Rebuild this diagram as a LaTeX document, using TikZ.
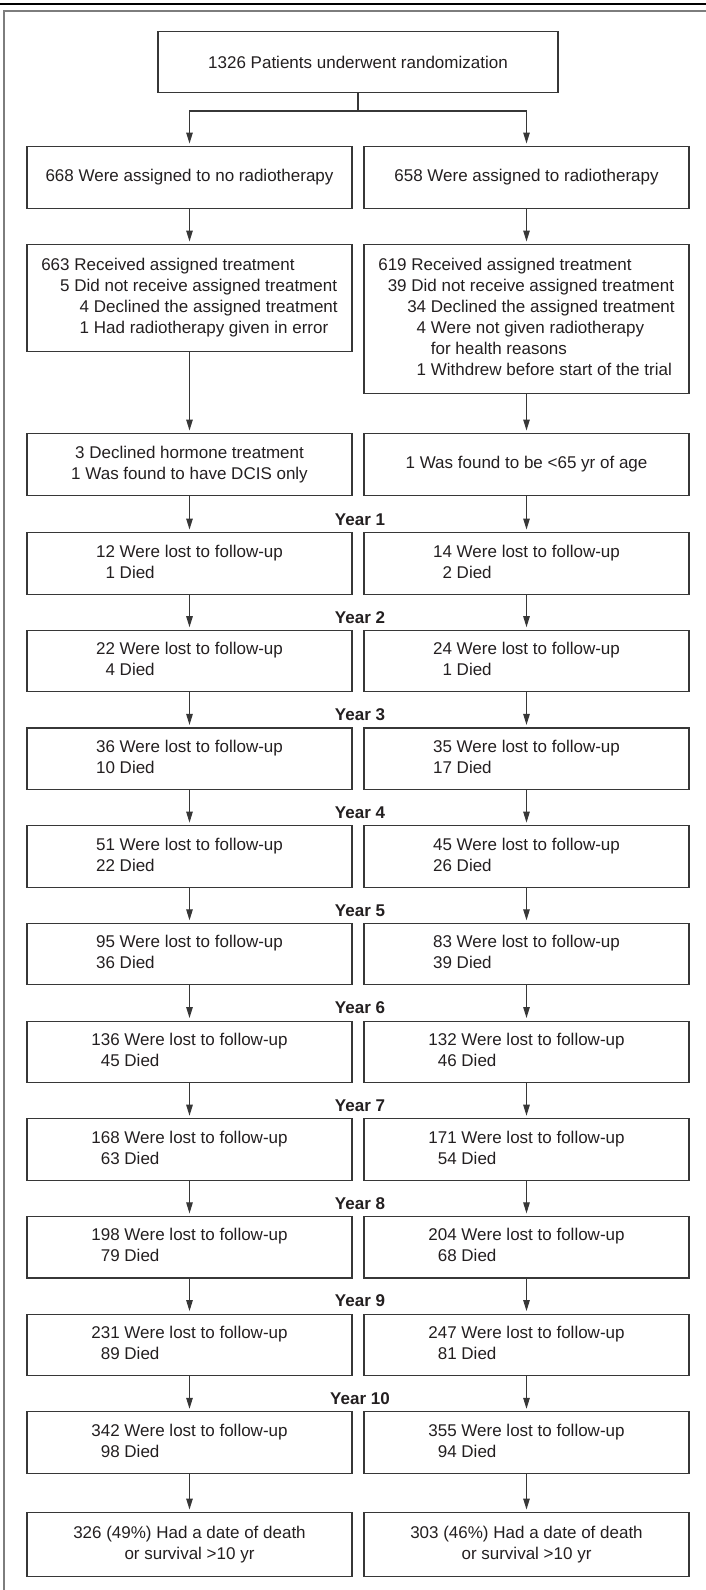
\documentclass[tikz,border=0pt]{standalone}
\usepackage{fontspec}
\setmainfont{Liberation Sans}
\definecolor{boxline}{RGB}{55,55,55}
\definecolor{framegray}{RGB}{125,125,125}
\definecolor{textdark}{RGB}{35,31,32}
\usetikzlibrary{arrows.meta}
\newcommand{\subnum}[1]{\makebox[0.87em][r]{#1}~}

\begin{document}
\begin{tikzpicture}[x=1pt,y=-1pt,
    every node/.style={font=\fontsize{17}{21}\selectfont,text=textdark},
    flowbox/.style={draw=boxline,line width=1.1pt,inner sep=0pt,
      minimum width=325pt,minimum height=61.5pt,anchor=north},
    yearlabel/.style={font=\fontsize{17}{21}\selectfont\bfseries,inner sep=0pt},
    flowarrow/.style={draw=boxline,line width=1.1pt,
      -{Triangle[length=11pt,width=6.5pt]},shorten >=2.5pt}
    ]
    \useasboundingbox (0,0) rectangle (706,1590);

    % rule and frame
    \draw[line width=1.6pt] (0,4) -- (706,4);
    \draw[framegray,line width=1.8pt] (706,11) -- (4,11) -- (4,1590);

    % randomization
    \node[flowbox,minimum width=400pt,minimum height=61pt] (rand) at (358,31)
      {1326 Patients underwent randomization};
    \coordinate (split) at (358,111);

    % the two arms
    \node[flowbox] (noRT) at (189.5,146) {668 Were assigned to no radiotherapy};
    \node[flowbox] (RT) at (526.5,146) {658 Were assigned to radiotherapy};

    % treatment received
    \node[flowbox,minimum height=107pt] (noRTtx) at (189.5,244)
      {\begin{tabular}{@{}r@{ }l@{}}
        663 & Received assigned treatment\\
        5 & Did not receive assigned treatment\\
          & \subnum{4}Declined the assigned treatment\\
          & \subnum{1}Had radiotherapy given in error
       \end{tabular}};
    \node[flowbox,minimum height=149pt] (RTtx) at (526.5,244)
      {\begin{tabular}{@{}r@{ }l@{}}
        619 & Received assigned treatment\\
        39 & Did not receive assigned treatment\\
          & \subnum{34}Declined the assigned treatment\\
          & \subnum{4}Were not given radiotherapy\\
          & \subnum{}for health reasons\\
          & \subnum{1}Withdrew before start of the trial
       \end{tabular}};

    % exclusions
    \node[flowbox,minimum height=62pt,align=center] (l0) at (189.5,433)
      {3 Declined hormone treatment\\1 Was found to have DCIS only};
    \node[flowbox,minimum height=62pt] (r0) at (526.5,433)
      {1 Was found to be <65 yr of age};

    % the edges
    \draw[boxline,line width=1.1pt] (rand.south) -- (split);
    \draw[flowarrow] (split) -| (noRT.north);
    \draw[flowarrow] (split) -| (RT.north);
    \draw[flowarrow] (noRT.south) -- (noRTtx.north);
    \draw[flowarrow] (RT.south) -- (RTtx.north);
    \draw[flowarrow] (noRTtx.south) -- (l0.north);
    \draw[flowarrow] (RTtx.south) -- (r0.north);

    % follow-up, year by year
    \foreach \k/\la/\lb/\ra/\rb in {1/12/1/14/2,2/22/4/24/1,3/36/10/35/17,
        4/51/22/45/26,5/95/36/83/39,6/136/45/132/46,7/168/63/171/54,
        8/198/79/204/68,9/231/89/247/81,10/342/98/355/94} {
      \pgfmathsetmacro{\top}{532+(\k-1)*97.7}
      \pgfmathtruncatemacro{\prev}{\k-1}
      \node[yearlabel] (y\k) at (360,\top-12.5) {Year \k};
      \node[flowbox] (l\k) at (189.5,\top)
        {\begin{tabular}{@{}r@{ }l@{}}\la & Were lost to follow-up\\ \lb & Died\end{tabular}};
      \node[flowbox] (r\k) at (526.5,\top)
        {\begin{tabular}{@{}r@{ }l@{}}\ra & Were lost to follow-up\\ \rb & Died\end{tabular}};
      \draw[flowarrow] (l\prev.south) -- (l\k.north);
      \draw[flowarrow] (r\prev.south) -- (r\k.north);
    }

    % outcome
    \node[flowbox,minimum height=64pt,align=center] (lend) at (189.5,1512)
      {326 (49\%) Had a date of death\\or survival >10 yr};
    \node[flowbox,minimum height=64pt,align=center] (rend) at (526.5,1512)
      {303 (46\%) Had a date of death\\or survival >10 yr};
    \draw[flowarrow] (l10.south) -- (lend.north);
    \draw[flowarrow] (r10.south) -- (rend.north);
\end{tikzpicture}
\end{document}
